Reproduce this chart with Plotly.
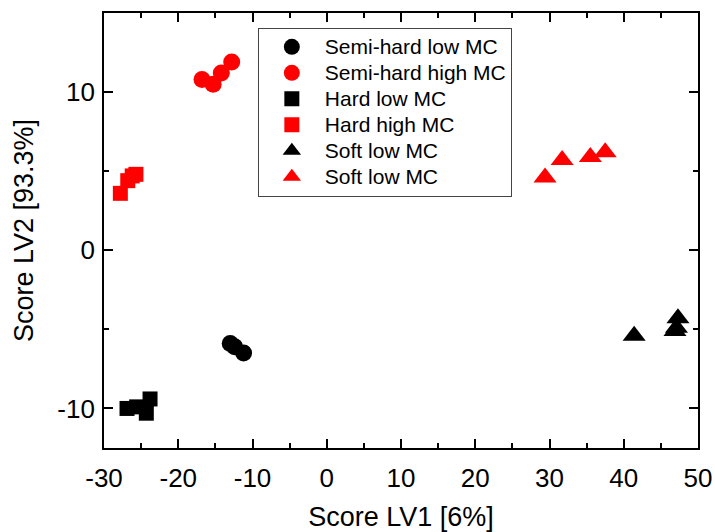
import plotly.graph_objects as go

# PLS score values per sample group (LV1, LV2)
semi_hard_low_lv1 = [-13.0, -12.4, -11.2]
semi_hard_low_lv2 = [-5.9, -6.1, -6.5]
semi_hard_high_lv1 = [-16.8, -15.3, -14.2, -12.8]
semi_hard_high_lv2 = [10.8, 10.5, 11.2, 11.9]
hard_low_lv1 = [-26.9, -25.6, -24.3, -23.8]
hard_low_lv2 = [-10.0, -9.9, -10.3, -9.4]
hard_high_lv1 = [-27.8, -26.8, -26.2, -25.7]
hard_high_lv2 = [3.6, 4.4, 4.7, 4.8]
soft_low_lv1 = [41.4, 46.9, 47.1, 47.3]
soft_low_lv2 = [-5.4, -5.1, -4.9, -4.3]
soft_high_lv1 = [29.4, 31.7, 35.5, 37.5]
soft_high_lv2 = [4.6, 5.7, 5.9, 6.2]

x_ticks = [-30, -20, -10, 0, 10, 20, 30, 40, 50]
y_ticks = [-10, 0, 10]

series = [
    ("Semi-hard low MC", semi_hard_low_lv1, semi_hard_low_lv2, "circle", "black", 17),
    ("Semi-hard high MC", semi_hard_high_lv1, semi_hard_high_lv2, "circle", "#ff0000", 17),
    ("Hard low MC", hard_low_lv1, hard_low_lv2, "square", "black", 15),
    ("Hard high MC", hard_high_lv1, hard_high_lv2, "square", "#ff0000", 15),
    ("Soft low MC", soft_low_lv1, soft_low_lv2, "triangle-up", "black", 20),
    ("Soft low MC", soft_high_lv1, soft_high_lv2, "triangle-up", "#ff0000", 20),
]

fig = go.Figure()
for name, xs, ys, sym, col, size in series:
    fig.add_trace(go.Scatter(
        x=xs, y=ys, mode="markers",
        # larger label text inside a compact legend row
        name=f"<span style='font-size:21px'>{name}</span>",
        marker=dict(symbol=sym, color=col, size=size, line=dict(width=0)),
    ))

font_family = "Liberation Sans, Arial, sans-serif"
axis_common = dict(
    showline=True, linecolor="black", linewidth=1.8, mirror="ticks",
    ticks="inside", ticklen=9, tickwidth=1.5, tickcolor="black",
    showgrid=False, zeroline=False, automargin=False,
    tickfont=dict(family=font_family, size=26, color="black"),
    minor=dict(ticks="inside", ticklen=5, tickwidth=1.5, tickcolor="black", dtick=5),
)

fig.update_xaxes(
    range=[-30, 50], tickvals=x_ticks, ticktext=[str(v) for v in x_ticks],
    ticklabelstandoff=6,
    title=dict(text="Score LV1 [6%]", font=dict(family=font_family, size=27, color="black"), standoff=15),
    **axis_common,
)
fig.update_yaxes(
    range=[-12.5, 15], tickvals=y_ticks, ticktext=[str(v) for v in y_ticks],
    ticklabelstandoff=2,
    title=dict(text="Score LV2 [93.3%]", font=dict(family=font_family, size=27, color="black"), standoff=16),
    **axis_common,
)

fig.update_layout(
    width=715, height=532,
    margin=dict(l=104, r=17, t=13, b=84),
    paper_bgcolor="white", plot_bgcolor="white",
    showlegend=True,
    legend=dict(
        x=0.259, y=0.966, xanchor="left", yanchor="top",
        bordercolor="#444444", borderwidth=1, bgcolor="white",
        font=dict(family=font_family, size=17.7, color="black"),
        itemwidth=56,
    ),
)

fig.write_html("out.html")
